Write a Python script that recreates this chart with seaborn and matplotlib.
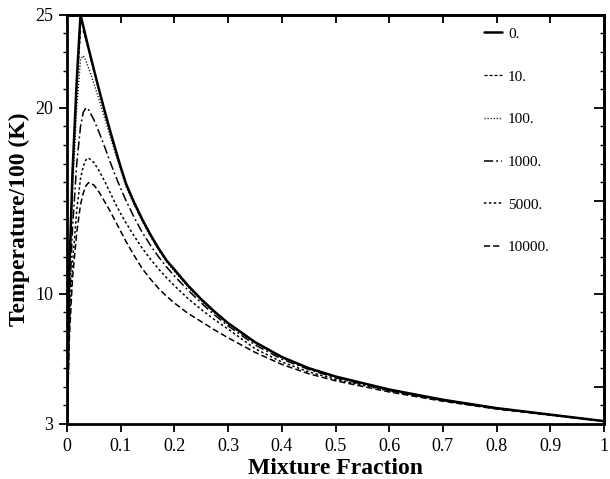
import matplotlib
matplotlib.use("Agg")
import matplotlib.pyplot as plt
import seaborn as sns
import pandas as pd

# mixture fraction grid (shared by every curve)
mix_frac = [0, 0.004, 0.01, 0.018, 0.025, 0.03, 0.035, 0.04, 0.05, 0.06, 0.07,
            0.08, 0.09, 0.1, 0.11, 0.125, 0.14, 0.155, 0.17, 0.185, 0.2,
            0.225, 0.25, 0.275, 0.3, 0.35, 0.4, 0.45, 0.5, 0.6, 0.7, 0.8,
            0.9, 1.0]

# temperature / 100 (K)
temp_0 = [3, 11.0, 16.5, 21.5, 25.0, 24.4, 23.8, 23.2, 22.05, 20.92, 19.83,
          18.78, 17.77, 16.8, 15.9, 14.9, 14.0, 13.19, 12.46, 11.8, 11.3,
          10.45, 9.7, 9.03, 8.42, 7.4, 6.6, 6.0, 5.55, 4.85, 4.3, 3.85,
          3.5, 3.15]
temp_10 = [3, 10.8, 16.2, 21.0, 24.1, 24.15, 23.65, 23.1, 21.95, 20.85,
           19.77, 18.73, 17.72, 16.76, 15.86, 14.86, 13.96, 13.15, 12.42,
           11.77, 11.26, 10.42, 9.67, 9.0, 8.4, 7.38, 6.58, 5.99, 5.54, 4.84,
           4.3, 3.85, 3.5, 3.15]
temp_100 = [3, 10.3, 15.5, 20.0, 22.6, 22.8, 22.55, 22.15, 21.3, 20.4, 19.45,
            18.5, 17.55, 16.62, 15.75, 14.78, 13.9, 13.1, 12.38, 11.73, 11.2,
            10.37, 9.63, 8.97, 8.37, 7.35, 6.56, 5.98, 5.53, 4.83, 4.29, 3.85,
            3.5, 3.15]
temp_1000 = [3, 9.2, 13.5, 17.0, 19.0, 19.75, 20.0, 19.9, 19.35, 18.65,
             17.9, 17.1, 16.35, 15.65, 15.0, 14.1, 13.3, 12.62, 12.0, 11.45,
             10.95, 10.2, 9.5, 8.85, 8.27, 7.25, 6.48, 5.93, 5.48, 4.8, 4.27,
             3.83, 3.49, 3.15]
temp_5000 = [3, 8.0, 11.6, 14.5, 16.2, 16.85, 17.2, 17.3, 17.05, 16.6, 16.05,
             15.45, 14.85, 14.3, 13.8, 13.1, 12.45, 11.87, 11.35, 10.87,
             10.43, 9.75, 9.15, 8.6, 8.1, 7.05, 6.33, 5.8, 5.4, 4.77, 4.25,
             3.82, 3.48, 3.15]
temp_10000 = [3, 7.5, 10.8, 13.3, 14.8, 15.4, 15.8, 15.98, 15.85, 15.45,
              14.95, 14.45, 13.9, 13.35, 12.8, 12.05, 11.35, 10.8, 10.3, 9.87,
              9.5, 8.95, 8.5, 8.05, 7.63, 6.85, 6.2, 5.7, 5.32, 4.72, 4.22,
              3.8, 3.47, 3.15]

labels = ["0.", "10.", "100.", "1000.", "5000.", "10000."]
series = [temp_0, temp_10, temp_100, temp_1000, temp_5000, temp_10000]

styles = {
    "0.": dict(ls="-", lw=1.8),
    "10.": dict(ls=(0, (2.5, 1.5)), lw=0.9),
    "100.": dict(ls=(0, (0.8, 1.4)), lw=1.0),
    "1000.": dict(ls=(0, (6, 2, 1.2, 2)), lw=1.1),
    "5000.": dict(ls=(0, (1.6, 1.6)), lw=1.1),
    "10000.": dict(ls=(0, (4, 2)), lw=1.1),
}

df = pd.concat([pd.DataFrame({"z": mix_frac, "T": t, "case": lab})
                for lab, t in zip(labels, series)])

sns.set_style("ticks")
plt.rcParams["font.family"] = ["Liberation Serif", "DejaVu Serif"]
plt.rcParams["text.color"] = "black"
plt.rcParams["axes.labelcolor"] = "black"
plt.rcParams["xtick.color"] = "black"
plt.rcParams["ytick.color"] = "black"

fig, ax = plt.subplots(figsize=(6.1, 4.79), dpi=100)
fig.subplots_adjust(left=0.110, right=0.99, top=0.969, bottom=0.115)

for lab in labels:
    st = styles[lab]
    sns.lineplot(data=df[df["case"] == lab], x="z", y="T", ax=ax,
                 color="black", linestyle=st["ls"], lw=st["lw"],
                 label=lab, estimator=None, sort=False)

ax.set_xlim(0, 1)
ax.set_ylim(3, 25)
ax.set_xticks([0, 0.1, 0.2, 0.3, 0.4, 0.5, 0.6, 0.7, 0.8, 0.9, 1])
ax.set_xticklabels(["0", "0.1", "0.2", "0.3", "0.4", "0.5", "0.6", "0.7",
                    "0.8", "0.9", "1"])
ax.set_yticks([3, 10, 20, 25])
ax.set_yticks(range(3, 26), minor=True)
ax.tick_params(axis="both", which="major", labelsize=13, width=1.3,
               length=6, direction="out", color="black", labelcolor="black",
               pad=4)
ax.tick_params(axis="y", which="minor", length=3, width=1.0, color="black")

for s in ax.spines.values():
    s.set_linewidth(2.0)
    s.set_color("black")

top = ax.secondary_xaxis("top")
top.set_xticks([0, 0.1, 0.2, 0.3, 0.4, 0.5, 0.6, 0.7, 0.8, 0.9, 1])
top.tick_params(direction="in", length=6, width=1.3, labeltop=False)
top.spines["top"].set_linewidth(2.0)

right = ax.secondary_yaxis("right")
right.set_yticks([5, 10, 15, 20, 25])
right.set_yticks(range(3, 26), minor=True)
right.tick_params(which="major", direction="in", length=7, width=1.3,
                  labelright=False)
right.tick_params(which="minor", direction="in", length=3, width=1.0)
right.spines["right"].set_linewidth(2.0)

ax.set_xlabel("Mixture Fraction", fontsize=17, fontweight="bold", labelpad=2)
ax.set_ylabel("Temperature/100 (K)", fontsize=17, fontweight="bold",
              labelpad=4)

ax.legend(loc="upper left", bbox_to_anchor=(0.776, 0.97), frameon=False,
          fontsize=11, handlelength=1.2, handletextpad=0.4, labelspacing=1.9,
          borderpad=0, borderaxespad=0)

plt.savefig("out.png", dpi=100)
